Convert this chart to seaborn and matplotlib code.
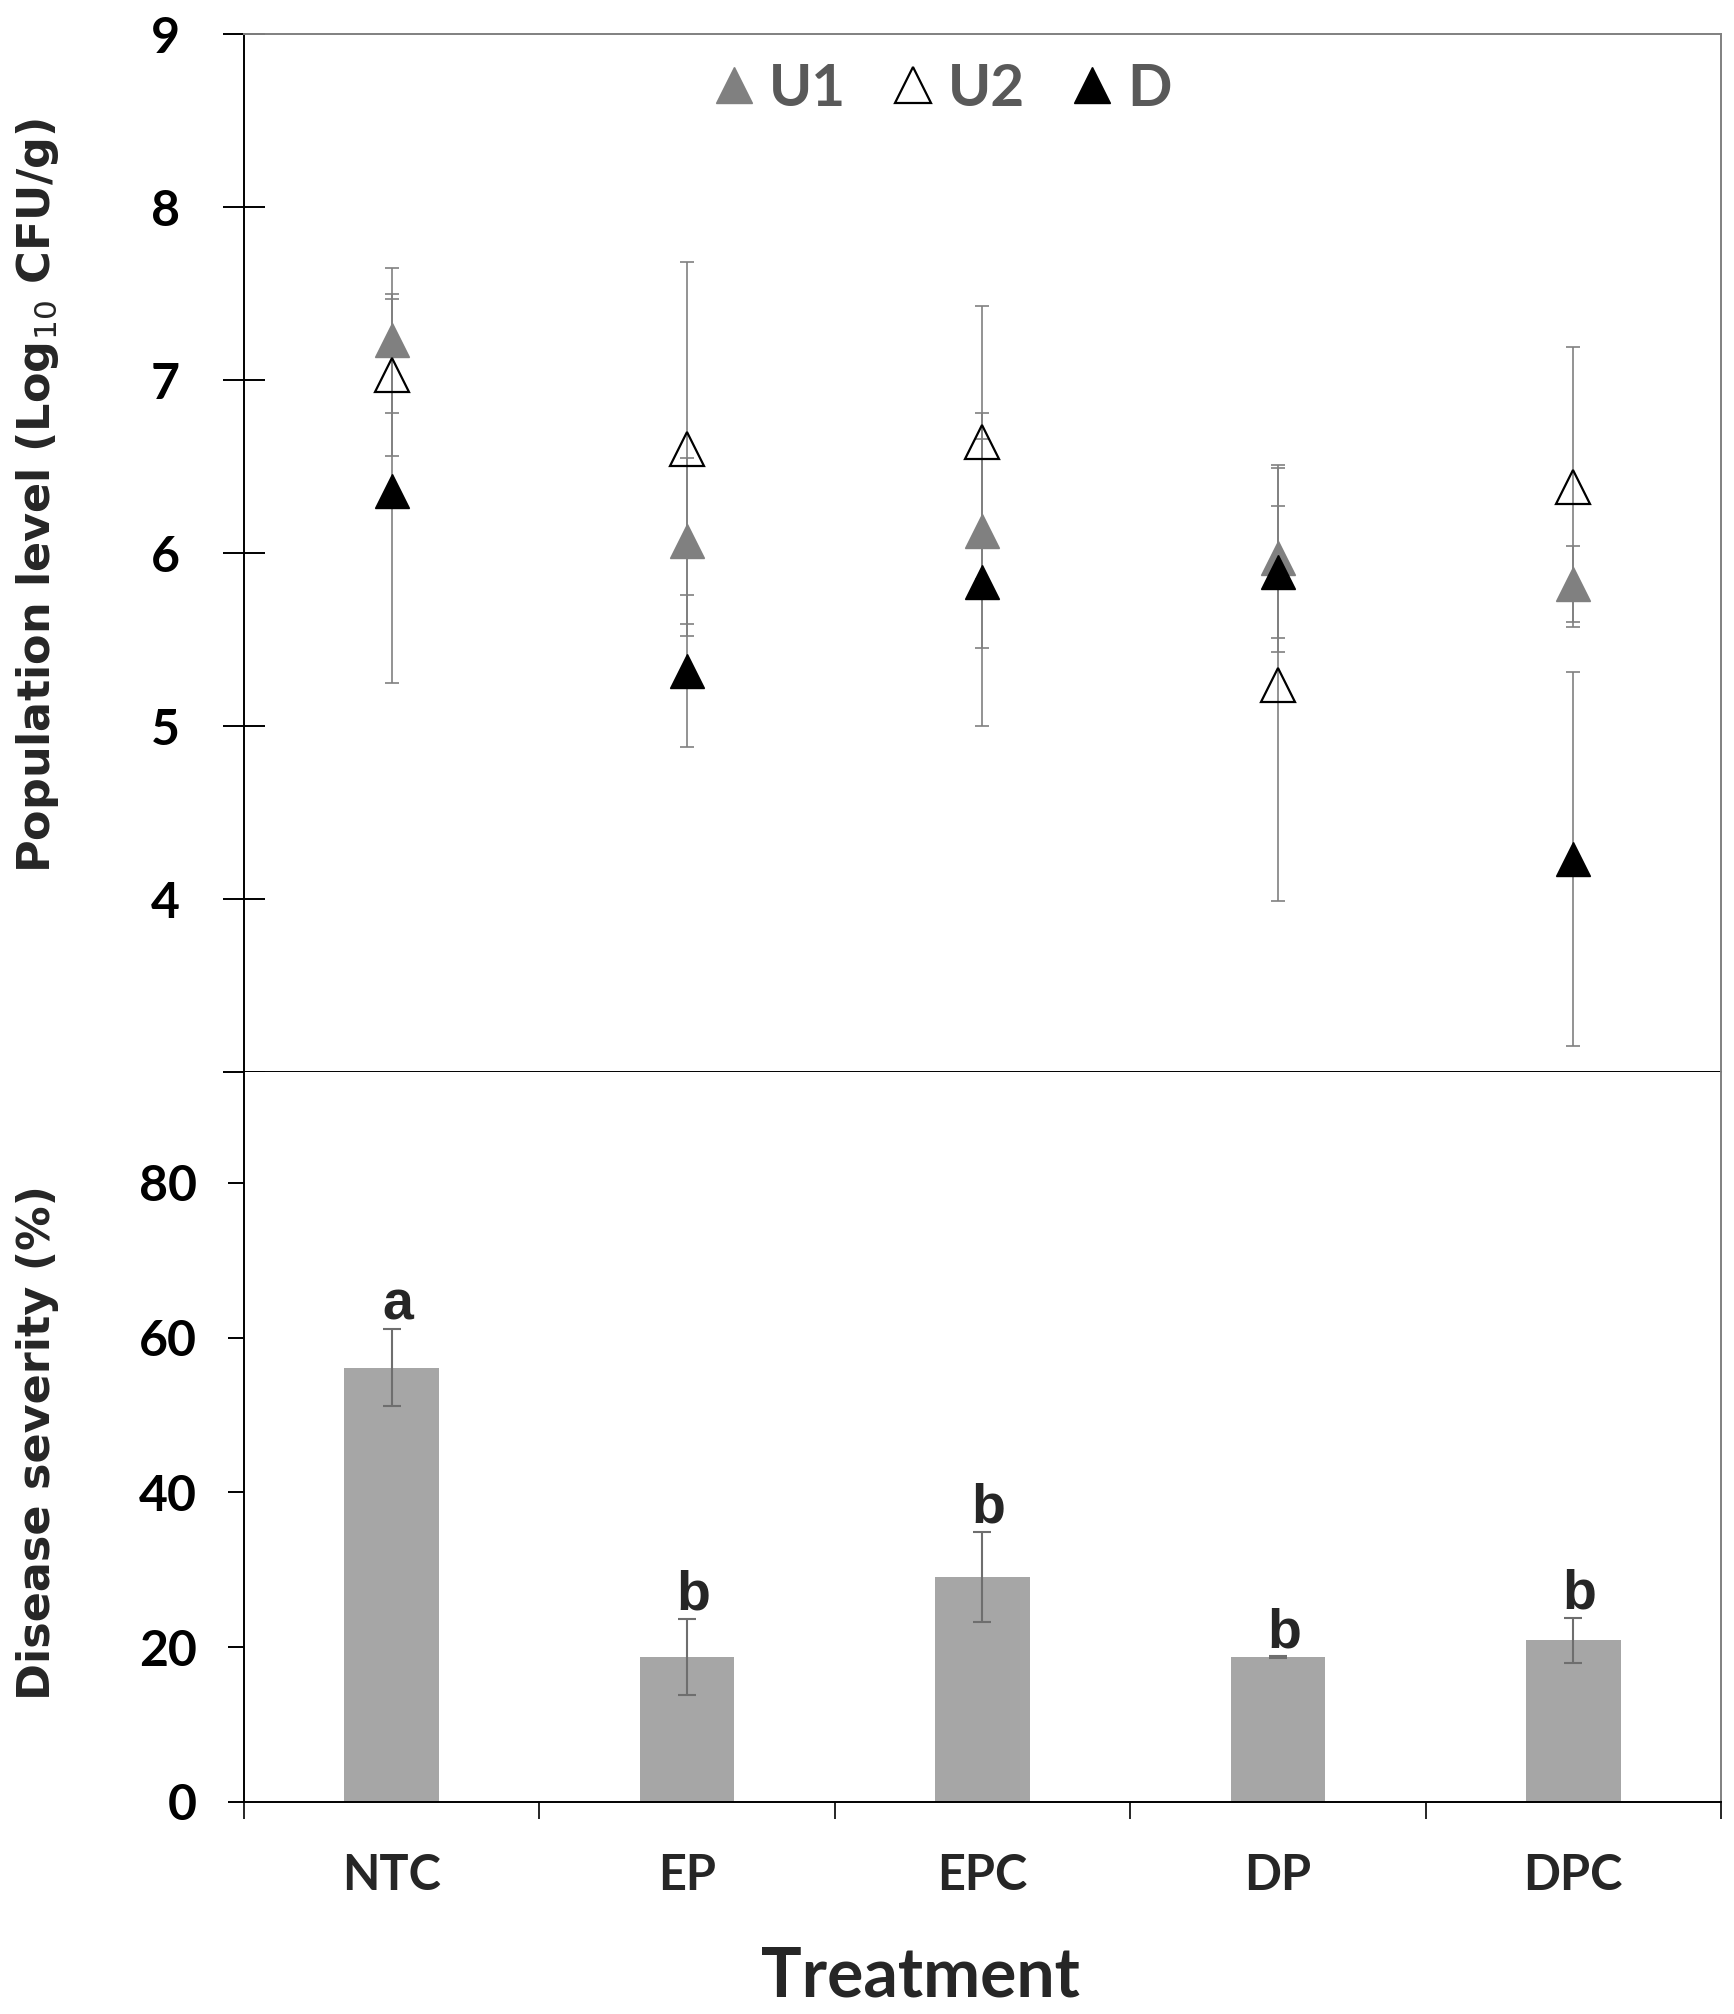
import numpy as np
import pandas as pd
import seaborn as sns
import matplotlib.pyplot as plt

# Treatments shown on the shared x axis
treatments = ['NTC', 'EP', 'EPC', 'DP', 'DPC']

# Population level (Log10 CFU/g), mean and error per sampling
u1_mean = [7.23, 6.07, 6.13, 5.97, 5.82]
u1_err = [0.42, 0.48, 0.68, 0.54, 0.22]
u2_mean = [7.03, 6.60, 6.64, 5.24, 6.38]
u2_err = [0.47, 1.08, 0.79, 1.25, 0.81]
d_mean = [6.36, 5.32, 5.83, 5.89, 4.23]
d_err = [1.11, 0.44, 0.83, 0.38, 1.08]

# Disease severity (%)
severity = [56.1, 18.7, 29.1, 18.7, 20.9]
severity_err = [5.0, 4.9, 5.8, 0.1, 2.9]
letters = ['a', 'b', 'b', 'b', 'b']

df_bar = pd.DataFrame({'Treatment': treatments, 'Severity': severity})

sns.set_style('ticks')
plt.rcParams['font.family'] = ['Lato', 'DejaVu Sans']
plt.rcParams['mathtext.fontset'] = 'dejavusans'

fig = plt.figure(figsize=(17.34, 20.14), dpi=100)
ax1 = fig.add_axes([0.1407, 0.4677, 0.8518, 0.5154])
ax2 = fig.add_axes([0.1407, 0.1053, 0.8518, 0.3624], sharex=ax1)

x = np.arange(len(treatments))

# top panel: population levels
series = [
    ('U1', u1_mean, u1_err, dict(mfc='#808080', mec='#808080', mew=1)),
    ('U2', u2_mean, u2_err, dict(mfc='none', mec='black', mew=1.6)),
    ('D', d_mean, d_err, dict(mfc='black', mec='black', mew=1)),
]
for name, m, e, style in series:
    ax1.errorbar(x, m, yerr=e, fmt='none', ecolor='#808080', elinewidth=1.2,
                 capsize=5, capthick=1.2, zorder=2)
for name, m, e, style in series:
    ax1.plot(x, m, ls='none', marker='^', ms=24, label=name, zorder=3, **style)

leg = ax1.legend(loc='center', bbox_to_anchor=(0.472, 0.947), ncol=3, frameon=False,
                 handlelength=0.8, handletextpad=0.2, columnspacing=0.75,
                 markerscale=1.08, prop=dict(family='Lato', weight='bold', size=42))
for t in leg.get_texts():
    t.set_color('#595959')

ax1.set_ylim(3, 9)
ax1.set_yticks([3, 4, 5, 6, 7, 8, 9])
ax1.set_yticklabels(['', '4', '5', '6', '7', '8', '9'])
ax1.tick_params(axis='y', direction='inout', length=30, width=1.4, pad=31,
                labelsize=36, colors='black')
ax1.tick_params(axis='x', which='both', labelbottom=False, length=0)
ax1.set_ylabel(r'Population level (Log$_{\rm 10}$ CFU/g)', family='DejaVu Sans',
               weight='bold', size=32)
ax1.yaxis.label.set_va('center')
ax1.yaxis.set_label_coords(-0.140, 0.556)
for lab in ax1.get_yticklabels():
    lab.set_fontweight('bold')

# bottom panel: disease severity
sns.barplot(data=df_bar, x='Treatment', y='Severity', color='#a6a6a6', width=0.32,
            saturation=1, errorbar=None, linewidth=0, ax=ax2, zorder=2)
ax2.errorbar(x, severity, yerr=severity_err, fmt='none', ecolor='#6e6e6e',
             elinewidth=1.5, capsize=6.5, capthick=1.5, zorder=3)
for xi, m, e, letter in zip(x, severity, severity_err, letters):
    ax2.text(xi + 0.02, m + e + 1.2, letter, ha='center', va='baseline',
             family='Liberation Sans', weight='bold', size=40)

ax2.set_ylim(0, 94.3)
ax2.set_yticks([0, 20, 40, 60, 80])
ax2.tick_params(axis='y', direction='out', length=11.5, width=1.4, pad=22.5,
                labelsize=36, colors='black')
ax2.set_xlim(-0.5, len(treatments) - 0.5)
ax2.set_xticks(x)
ax2.set_xticklabels(treatments)
ax2.set_xticks(np.arange(-0.5, len(treatments)), minor=True)
ax2.tick_params(axis='x', which='major', length=0, pad=37, labelsize=35)
ax2.tick_params(axis='x', which='minor', direction='out', length=12, width=1.4)
for lab in ax2.get_xticklabels() + ax2.get_yticklabels():
    lab.set_fontweight('bold')

ax2.set_ylabel('Disease severity (%)', family='DejaVu Sans', weight='bold', size=32)
ax2.yaxis.label.set_va('center')
ax2.yaxis.set_label_coords(-0.140, 0.493)
ax2.set_xlabel('Treatment', family='Lato', weight='bold', size=49)
ax2.xaxis.label.set_va('center')
ax2.xaxis.set_label_coords(0.458, -0.240)

# frame styling
for ax in (ax1, ax2):
    ax.spines['left'].set_color('black')
    ax.spines['bottom'].set_color('black')
    ax.spines['right'].set_color('#808080')
    ax.spines['top'].set_color('#808080')
    for s in ax.spines.values():
        s.set_linewidth(1.4)
ax2.spines['top'].set_visible(False)

plt.savefig('out.png', dpi=100)
